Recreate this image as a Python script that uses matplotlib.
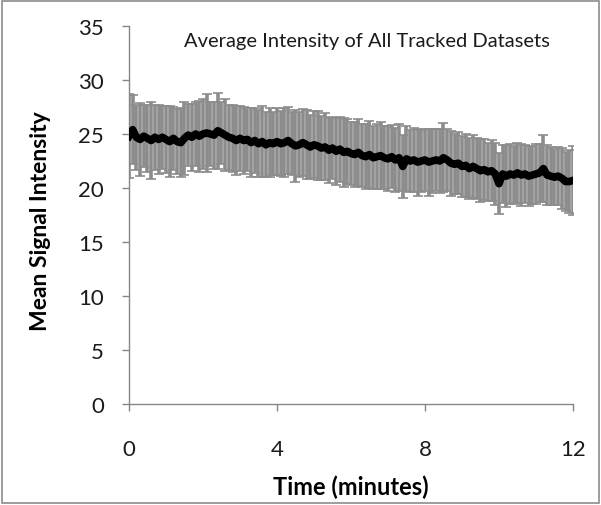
import numpy as np
import matplotlib.pyplot as plt
from matplotlib.patches import Rectangle

# time in minutes, one reading every 0.1 min
time_min = [round(i * 0.1, 1) for i in range(121)]

mean_signal = [
    24.8, 25.4, 24.7, 24.5, 24.8, 24.6, 24.4, 24.7, 24.5, 24.7,
    24.5, 24.3, 24.6, 24.3, 24.2, 24.6, 24.9, 24.7, 25.0, 24.8,
    25.0, 25.1, 25.0, 24.9, 25.3, 25.1, 24.9, 24.7, 24.6, 24.4,
    24.6, 24.4, 24.5, 24.2, 24.4, 24.1, 24.3, 24.0, 24.2, 24.1,
    24.3, 24.1, 24.2, 24.4, 24.1, 23.9, 24.0, 24.2, 24.0, 23.8,
    24.0, 23.9, 23.7, 23.8, 23.5, 23.7, 23.4, 23.6, 23.3, 23.4,
    23.2, 23.1, 23.3, 23.0, 22.9, 23.1, 22.8, 22.9, 23.0, 22.8,
    22.7, 22.9, 22.6, 22.8, 22.0, 22.7, 22.5, 22.6, 22.4, 22.5,
    22.6, 22.4, 22.5, 22.6, 22.5, 22.8, 22.6, 22.3, 22.2, 22.3,
    22.0, 22.1, 21.8, 22.0, 21.8, 21.6, 21.7, 21.5, 21.6, 21.3,
    20.4, 21.3, 21.1, 21.3, 21.2, 21.4, 21.2, 21.3, 21.1, 21.2,
    21.3, 21.4, 21.8, 21.2, 21.1, 21.0, 21.1, 20.9, 20.6, 20.6,
    20.7,
]

signal_err = [
    3.9, 3.2, 3.0, 3.4, 2.9, 3.1, 3.6, 3.0, 3.2, 2.9,
    3.1, 3.3, 2.9, 3.0, 3.2, 3.4, 2.9, 3.1, 3.0, 3.3,
    3.2, 3.6, 3.0, 3.1, 3.5, 2.9, 3.3, 3.0, 3.1, 3.2,
    3.0, 3.1, 2.9, 3.2, 3.0, 3.1, 3.3, 3.0, 3.2, 2.9,
    3.1, 3.0, 3.2, 3.1, 2.9, 3.3, 3.0, 3.1, 3.2, 3.0,
    3.1, 3.2, 3.0, 3.1, 3.0, 2.9, 3.1, 3.0, 3.2, 3.0,
    2.9, 3.0, 3.1, 2.9, 3.0, 3.1, 2.9, 3.0, 3.1, 2.9,
    3.0, 2.9, 3.0, 3.1, 2.9, 3.0, 2.9, 3.0, 3.1, 2.9,
    2.9, 3.1, 3.0, 2.9, 3.0, 3.2, 2.9, 3.0, 2.8, 2.9,
    2.8, 2.9, 2.8, 2.9, 2.8, 2.9, 2.8, 2.7, 2.8, 2.9,
    2.8, 2.7, 2.9, 2.8, 2.7, 2.8, 2.9, 2.7, 2.8, 2.7,
    2.8, 2.7, 3.1, 2.8, 2.7, 2.6, 2.7, 2.8, 2.7, 2.9,
    3.2,
]

plt.rcParams['font.family'] = ['Lato', 'DejaVu Sans']

fig = plt.figure(figsize=(6.01, 5.06), dpi=100)
ax = fig.add_axes([0.2146, 0.1996, 0.7388, 0.747])

grey = '#8c8c8c'
axis_col = '#868686'

ax.errorbar(time_min, mean_signal, yerr=signal_err, fmt='none',
            ecolor=grey, elinewidth=2.6, capsize=3.5, capthick=1.2, zorder=2)
ax.plot(time_min, mean_signal, color='black', linewidth=5.5, zorder=3)

ax.set_xlim(0, 12)
ax.set_ylim(0, 35)
ax.set_xticks([0, 4, 8, 12])
ax.set_yticks(range(0, 36, 5))

for s in ['top', 'right']:
    ax.spines[s].set_visible(False)
for s in ['left', 'bottom']:
    ax.spines[s].set_color(axis_col)
    ax.spines[s].set_linewidth(1.0)

ax.tick_params(axis='both', direction='out', length=5, width=1.0,
               color=axis_col, labelsize=16, labelcolor='#1a1a1a')
ax.tick_params(axis='y', pad=13)
ax.tick_params(axis='x', pad=20)

ax.set_xlabel('Time (minutes)', fontsize=17, fontweight='bold', va='center')
ax.set_ylabel('Mean Signal Intensity', fontsize=16.5, fontweight='bold', va='center')
ax.xaxis.set_label_coords(0.5, -0.217)
ax.yaxis.set_label_coords(-0.2, 0.487)

fig.text(0.611, 0.917, 'Average Intensity of All Tracked Datasets',
         ha='center', va='center', fontsize=14.5, color='#1a1a1a')

# outer chart border
fig.patches.append(Rectangle((0.004, 0.004), 0.992, 0.992, transform=fig.transFigure,
                             fill=False, edgecolor='#8c8c8c', linewidth=1.2))

fig.savefig('out.png', dpi=100)
